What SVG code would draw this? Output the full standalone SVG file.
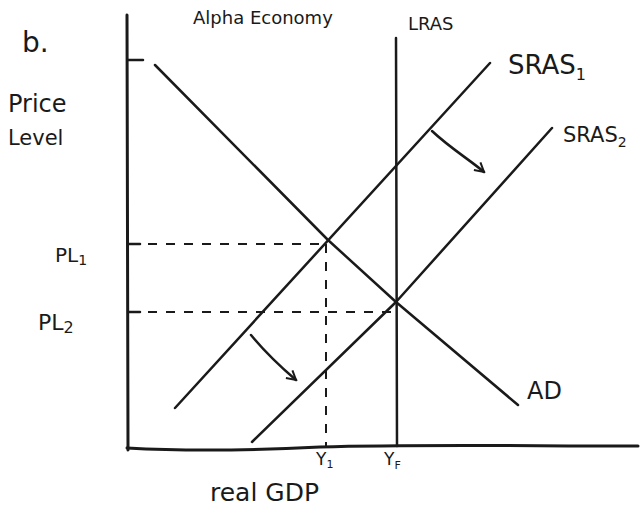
<svg xmlns="http://www.w3.org/2000/svg" width="641" height="510" viewBox="0 0 641 510">
<style>
.ln{fill:none;stroke:#1a1a1a;stroke-width:2.5;stroke-linecap:round;stroke-linejoin:round}
.ax{fill:none;stroke:#1a1a1a;stroke-width:3;stroke-linecap:round}
.ds{fill:none;stroke:#1a1a1a;stroke-width:2;stroke-dasharray:9 9}
.t{font-family:"DejaVu Sans",sans-serif;fill:#1a1a1a}
</style>
<defs>
<marker id="ah" viewBox="0 0 12 12" refX="10" refY="6" markerWidth="12" markerHeight="12" markerUnits="userSpaceOnUse" orient="auto">
<path d="M1,1 L10,6 L1,11" fill="none" stroke="#1a1a1a" stroke-width="2"/>
</marker>
</defs>
<rect width="641" height="510" fill="#fff"/>
<g id="axes">
<path class="ax" d="M127,15 L128,450"/>
<path class="ax" d="M127,448 C200,452 260,450 320,447 C420,444 520,446 638,446"/>
<path class="ln" d="M128,60 L143,60"/>
</g>
<g id="labels">
<text class="t" x="22" y="52" font-size="28">b.</text>
<text class="t" x="8" y="112" font-size="24">Price</text>
<text class="t" x="8" y="145" font-size="21">Level</text>
<text class="t" x="193" y="24" font-size="18">Alpha Economy</text>
<text class="t" x="55" y="262" font-size="20">PL<tspan font-size="14" dy="3">1</tspan></text>
<text class="t" x="38" y="330" font-size="22">PL<tspan font-size="16" dy="3">2</tspan></text>
<text class="t" x="210" y="501" font-size="25">real GDP</text>
</g>
<g id="connectors">
<path class="ds" d="M130,244 L328,244"/>
<path class="ds" d="M130,312 L395,312"/>
<path class="ds" d="M326,244 L326,446"/>
<path class="ln" d="M432,131 C450,148 470,160 484,172" marker-end="url(#ah)"/>
<path class="ln" d="M251,335 C265,352 282,368 296,380" marker-end="url(#ah)"/>
</g>
<g id="AD">
<path class="ln" d="M155,65 L328,240 L396,302 L518,405"/>
<text class="t" x="527" y="399" font-size="24">AD</text>
</g>
<g id="SRAS1">
<path class="ln" d="M175,408 L490,63"/>
<text class="t" x="508" y="74" font-size="26">SRAS<tspan font-size="16" dy="6">1</tspan></text>
</g>
<g id="SRAS2">
<path class="ln" d="M252,442 L396,302 L552,128"/>
<text class="t" x="563" y="142" font-size="21">SRAS<tspan font-size="14" dy="5">2</tspan></text>
</g>
<g id="LRAS">
<path class="ln" d="M396,38 L397,446"/>
<text class="t" x="408" y="30" font-size="18">LRAS</text>
</g>
<g id="ticks">
<path class="ln" d="M128,244 L140,244 M128,312 L140,312"/>
<text class="t" x="316" y="465" font-size="17">Y<tspan font-size="11" dy="3">1</tspan></text>
<text class="t" x="384" y="465" font-size="17">Y<tspan font-size="11" dy="4">F</tspan></text>
</g>
</svg>
